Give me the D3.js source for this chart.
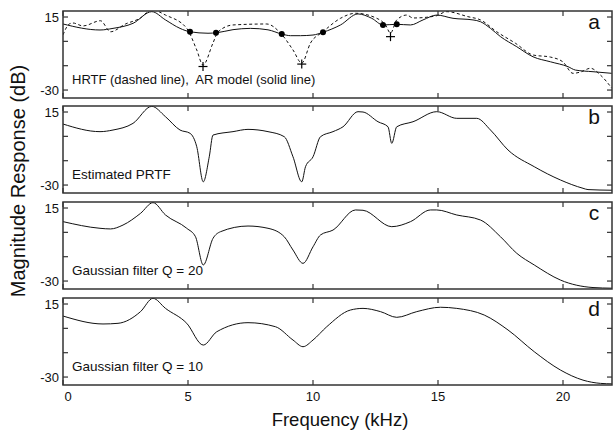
<!DOCTYPE html>
<meta charset="utf-8">
<script src="https://d3js.org/d3.v7.min.js"></script>
<style>
body { margin: 0; background: #fff; }
svg text { font-family: "Liberation Sans", Arial, Helvetica, sans-serif; white-space: pre; }
</style>
<body>
<div id="chart"></div>
<script>

// ---- data ----
var hrtfFreq = [0, 0.25, 0.4, 0.8, 1.5, 1.9, 2.5, 3.08, 3.55, 4.1, 4.95, 5.35, 5.6, 6.0, 6.2, 6.8, 8.15, 8.7, 9.2, 9.55, 9.9, 10.4, 11.1, 11.7, 12.55, 12.9, 13.1, 13.35, 13.75, 14.0, 14.9, 15.35, 16.2, 16.7, 17.35, 18.1, 18.8, 19.5, 20.0, 20.4, 20.7, 21.1, 21.5, 21.95];
var hrtfDb   = [4, 10.7, 11.3, 9.5, 12.7, 5.9, 10.7, 14.2, 19.5, 16.2, 8.0, -5.3, -14.6, -1.0, 5.8, 10.1, 10.7, 5.1, -5.3, -13.4, -1.0, 5.9, 14.2, 17.3, 14.2, 10.1, 5.1, 13.2, 16.2, 14.4, 15.6, 18.3, 15.2, 13.2, 5.9, -1.2, -8.4, -9.7, -12.7, -19.7, -18.9, -16.6, -20.8, -28.8];

var arFreq = [0, 1.48, 2.0, 2.8, 3.55, 4.1, 4.68, 5.08, 5.8, 6.15, 6.8, 7.5, 8.2, 8.75, 9.1, 9.5, 10.0, 10.4, 11.1, 11.8, 12.35, 12.8, 13.35, 13.9, 14.4, 14.95, 15.6, 16.4, 16.7, 17.1, 17.5, 18.15, 18.8, 19.5, 20.2, 20.5, 21.2, 21.95];
var arDb   = [10.7, 7.0, 8.0, 11.1, 18.3, 13.2, 8.0, 5.9, 5.0, 5.3, 7.2, 8.0, 7.1, 4.5, 3.5, 3.5, 3.9, 5.6, 10.1, 16.9, 14.2, 10.1, 10.5, 10.1, 13.2, 16.2, 14.2, 13.2, 12.1, 8.0, 2.9, -3.3, -9.5, -12.6, -15.6, -17.7, -18.7, -19.7];

var dotFreq = [5.08, 6.12, 8.75, 10.4, 12.8, 13.35];
var dotDb   = [5.9, 5.3, 4.5, 5.6, 10.1, 10.5];
var crossFreq = [5.6, 9.55, 13.1];
var crossDb   = [-15.5, -14.0, 2.9];

var prtfFreq = [0, 1.48, 2.0, 2.8, 3.55, 4.1, 4.68, 5.08, 5.35, 5.61, 5.85, 6.0, 6.8, 7.4, 8.2, 8.85, 9.2, 9.55, 9.7, 10.0, 10.3, 10.8, 11.2, 11.8, 12.0, 12.6, 13.0, 13.15, 13.35, 14.0, 14.95, 15.75, 16.55, 17.1, 17.8, 18.85, 19.9, 20.8, 21.0, 21.96];
var prtfDb   = [7.6, 2.9, 3.9, 8.0, 18.5, 12.1, 3.9, 1.9, -6.4, -28, -12.6, 0.8, 2.9, 4.3, 2.9, -0.2, -12.6, -28, -18.7, -12.6, -0.2, 2.9, 5.9, 15.2, 15.0, 9.0, 5.9, -4.3, 5.9, 9.0, 15.2, 11.1, 11.1, 3.9, -8.4, -18.7, -26.9, -32.0, -32.8, -33.2];

var q20Freq = [0, 1.48, 1.9, 2.4, 3.1, 3.6, 4.1, 4.95, 5.3, 5.61, 6.0, 6.3, 7.4, 8.2, 8.85, 9.2, 9.6, 10.0, 10.3, 10.8, 11.7, 12.0, 13.15, 13.9, 14.7, 14.95, 15.75, 16.7, 17.5, 18.15, 18.85, 19.9, 21.2, 21.96];
var q20Db   = [6.6, 2.5, 2.1, 4.5, 11.7, 18.3, 10.7, 2.5, -2.7, -20.1, -3.7, 0.4, 3.9, 2.5, -2.7, -10.9, -19.1, -8.9, -1.6, 1.4, 13.8, 13.6, 3.5, 6.6, 13.8, 13.8, 10.7, 7.6, -2.7, -12.9, -20.1, -29.4, -34.0, -34.4];

var q10Freq = [0, 1.6, 2.2, 3.1, 3.6, 4.1, 4.95, 5.61, 6.15, 7.4, 8.5, 9.2, 9.6, 10.0, 10.55, 11.5, 12.0, 12.7, 13.35, 14.15, 15.1, 15.75, 16.85, 17.8, 18.85, 19.9, 20.8, 21.5, 21.96];
var q10Db   = [7.6, 2.7, 3.1, 10.3, 18.5, 12.3, 3.1, -10.3, -2.1, 3.5, 1.0, -7.2, -11.3, -7.2, 1.0, 11.3, 12.3, 10.3, 6.8, 10.3, 13.0, 12.3, 8.2, -1.0, -14.4, -25.7, -31.9, -33.9, -34.2];

var panelLetters = ["a", "b", "c", "d"];
var panelNotes = ["HRTF (dashed line),  AR model (solid line)", "Estimated PRTF",
                  "Gaussian filter Q = 20", "Gaussian filter Q = 10"];
var xTicks = [0, 5, 10, 15, 20];
var yTicks = [15, 0, -15, -30];
var yLabels = [15, -30];

// ---- layout ----
var width = 613, height = 430;
var left = 63, right = 612;
var panelTops = [11, 106, 202, 298], panelH = 87;

var svg = d3.select("#chart").append("svg")
  .attr("width", width)
  .attr("height", height);

var x = d3.scaleLinear().domain([0, 21.96]).range([left, right]);

function pts(fs, vs) { return fs.map(function (f, i) { return [f, vs[i]]; }); }

var series = [
  [{data: pts(hrtfFreq, hrtfDb), dash: "3,2.5"}, {data: pts(arFreq, arDb)}],
  [{data: pts(prtfFreq, prtfDb)}],
  [{data: pts(q20Freq, q20Db)}],
  [{data: pts(q10Freq, q10Db)}]
];

panelTops.forEach(function (top, p) {
  var y = d3.scaleLinear().domain([-34.9, 18.7]).range([top + panelH, top]);
  var g = svg.append("g");

  var clipId = "clip" + p;
  svg.append("clipPath").attr("id", clipId)
    .append("rect").attr("x", left).attr("y", top).attr("width", right - left).attr("height", panelH);

  var line = d3.line()
    .x(function (d) { return x(d[0]); })
    .y(function (d) { return y(d[1]); })
    .curve(d3.curveMonotoneX);

  series[p].forEach(function (s) {
    g.append("path")
      .attr("clip-path", "url(#" + clipId + ")")
      .attr("d", line(s.data))
      .attr("fill", "none")
      .attr("stroke", "#111")
      .attr("stroke-width", 1)
      .attr("stroke-dasharray", s.dash || null);
  });

  // ticks (inward, all four sides)
  xTicks.forEach(function (t) {
    g.append("line").attr("x1", x(t)).attr("x2", x(t)).attr("y1", top).attr("y2", top + 5)
      .attr("stroke", "#333").attr("stroke-width", 1.2);
    g.append("line").attr("x1", x(t)).attr("x2", x(t)).attr("y1", top + panelH).attr("y2", top + panelH - 5)
      .attr("stroke", "#333").attr("stroke-width", 1.2);
  });
  yTicks.forEach(function (t) {
    g.append("line").attr("x1", left).attr("x2", left + 5).attr("y1", y(t)).attr("y2", y(t))
      .attr("stroke", "#333").attr("stroke-width", 1.2);
    g.append("line").attr("x1", right).attr("x2", right - 5).attr("y1", y(t)).attr("y2", y(t))
      .attr("stroke", "#333").attr("stroke-width", 1.2);
  });
  yLabels.forEach(function (t) {
    g.append("text").attr("x", left - 4).attr("y", y(t)).attr("dy", "0.35em")
      .attr("text-anchor", "end").attr("font-size", 13).attr("fill", "#111").text(t);
  });

  // frame
  g.append("rect").attr("x", left).attr("y", top).attr("width", right - left).attr("height", panelH)
    .attr("fill", "none").attr("stroke", "#333").attr("stroke-width", 1.5);

  g.append("text").attr("x", 72).attr("y", top + 73)
    .attr("font-size", p === 0 ? 13 : 13.5).attr("fill", "#111").text(panelNotes[p]);
  g.append("text").attr("x", 594).attr("y", top + 18).attr("text-anchor", "middle")
    .attr("font-size", 21).attr("fill", "#111").text(panelLetters[p]);

  if (p === 0) {
    g.selectAll(".dot").data(pts(dotFreq, dotDb)).enter().append("circle")
      .attr("cx", function (d) { return x(d[0]); })
      .attr("cy", function (d) { return y(d[1]); })
      .attr("r", 3).attr("fill", "#000");
    var cr = 4.5;
    pts(crossFreq, crossDb).forEach(function (d) {
      g.append("line").attr("x1", x(d[0]) - cr).attr("x2", x(d[0]) + cr).attr("y1", y(d[1])).attr("y2", y(d[1]))
        .attr("stroke", "#000").attr("stroke-width", 1.2);
      g.append("line").attr("x1", x(d[0])).attr("x2", x(d[0])).attr("y1", y(d[1]) - cr).attr("y2", y(d[1]) + cr)
        .attr("stroke", "#000").attr("stroke-width", 1.2);
    });
  }
});

// x tick labels under the last panel
xTicks.forEach(function (t) {
  svg.append("text").attr("x", x(t) + (t === 0 ? 5 : 0)).attr("y", 401).attr("text-anchor", "middle")
    .attr("font-size", 13).attr("fill", "#111").text(t);
});

svg.append("text").attr("x", 340).attr("y", 426).attr("text-anchor", "middle")
  .attr("font-size", 18.5).attr("fill", "#111").text("Frequency (kHz)");

svg.append("text").attr("transform", "translate(25,181)rotate(-90)").attr("text-anchor", "middle")
  .attr("font-size", 20).attr("fill", "#111").text("Magnitude Response (dB)");

</script>
</body>
